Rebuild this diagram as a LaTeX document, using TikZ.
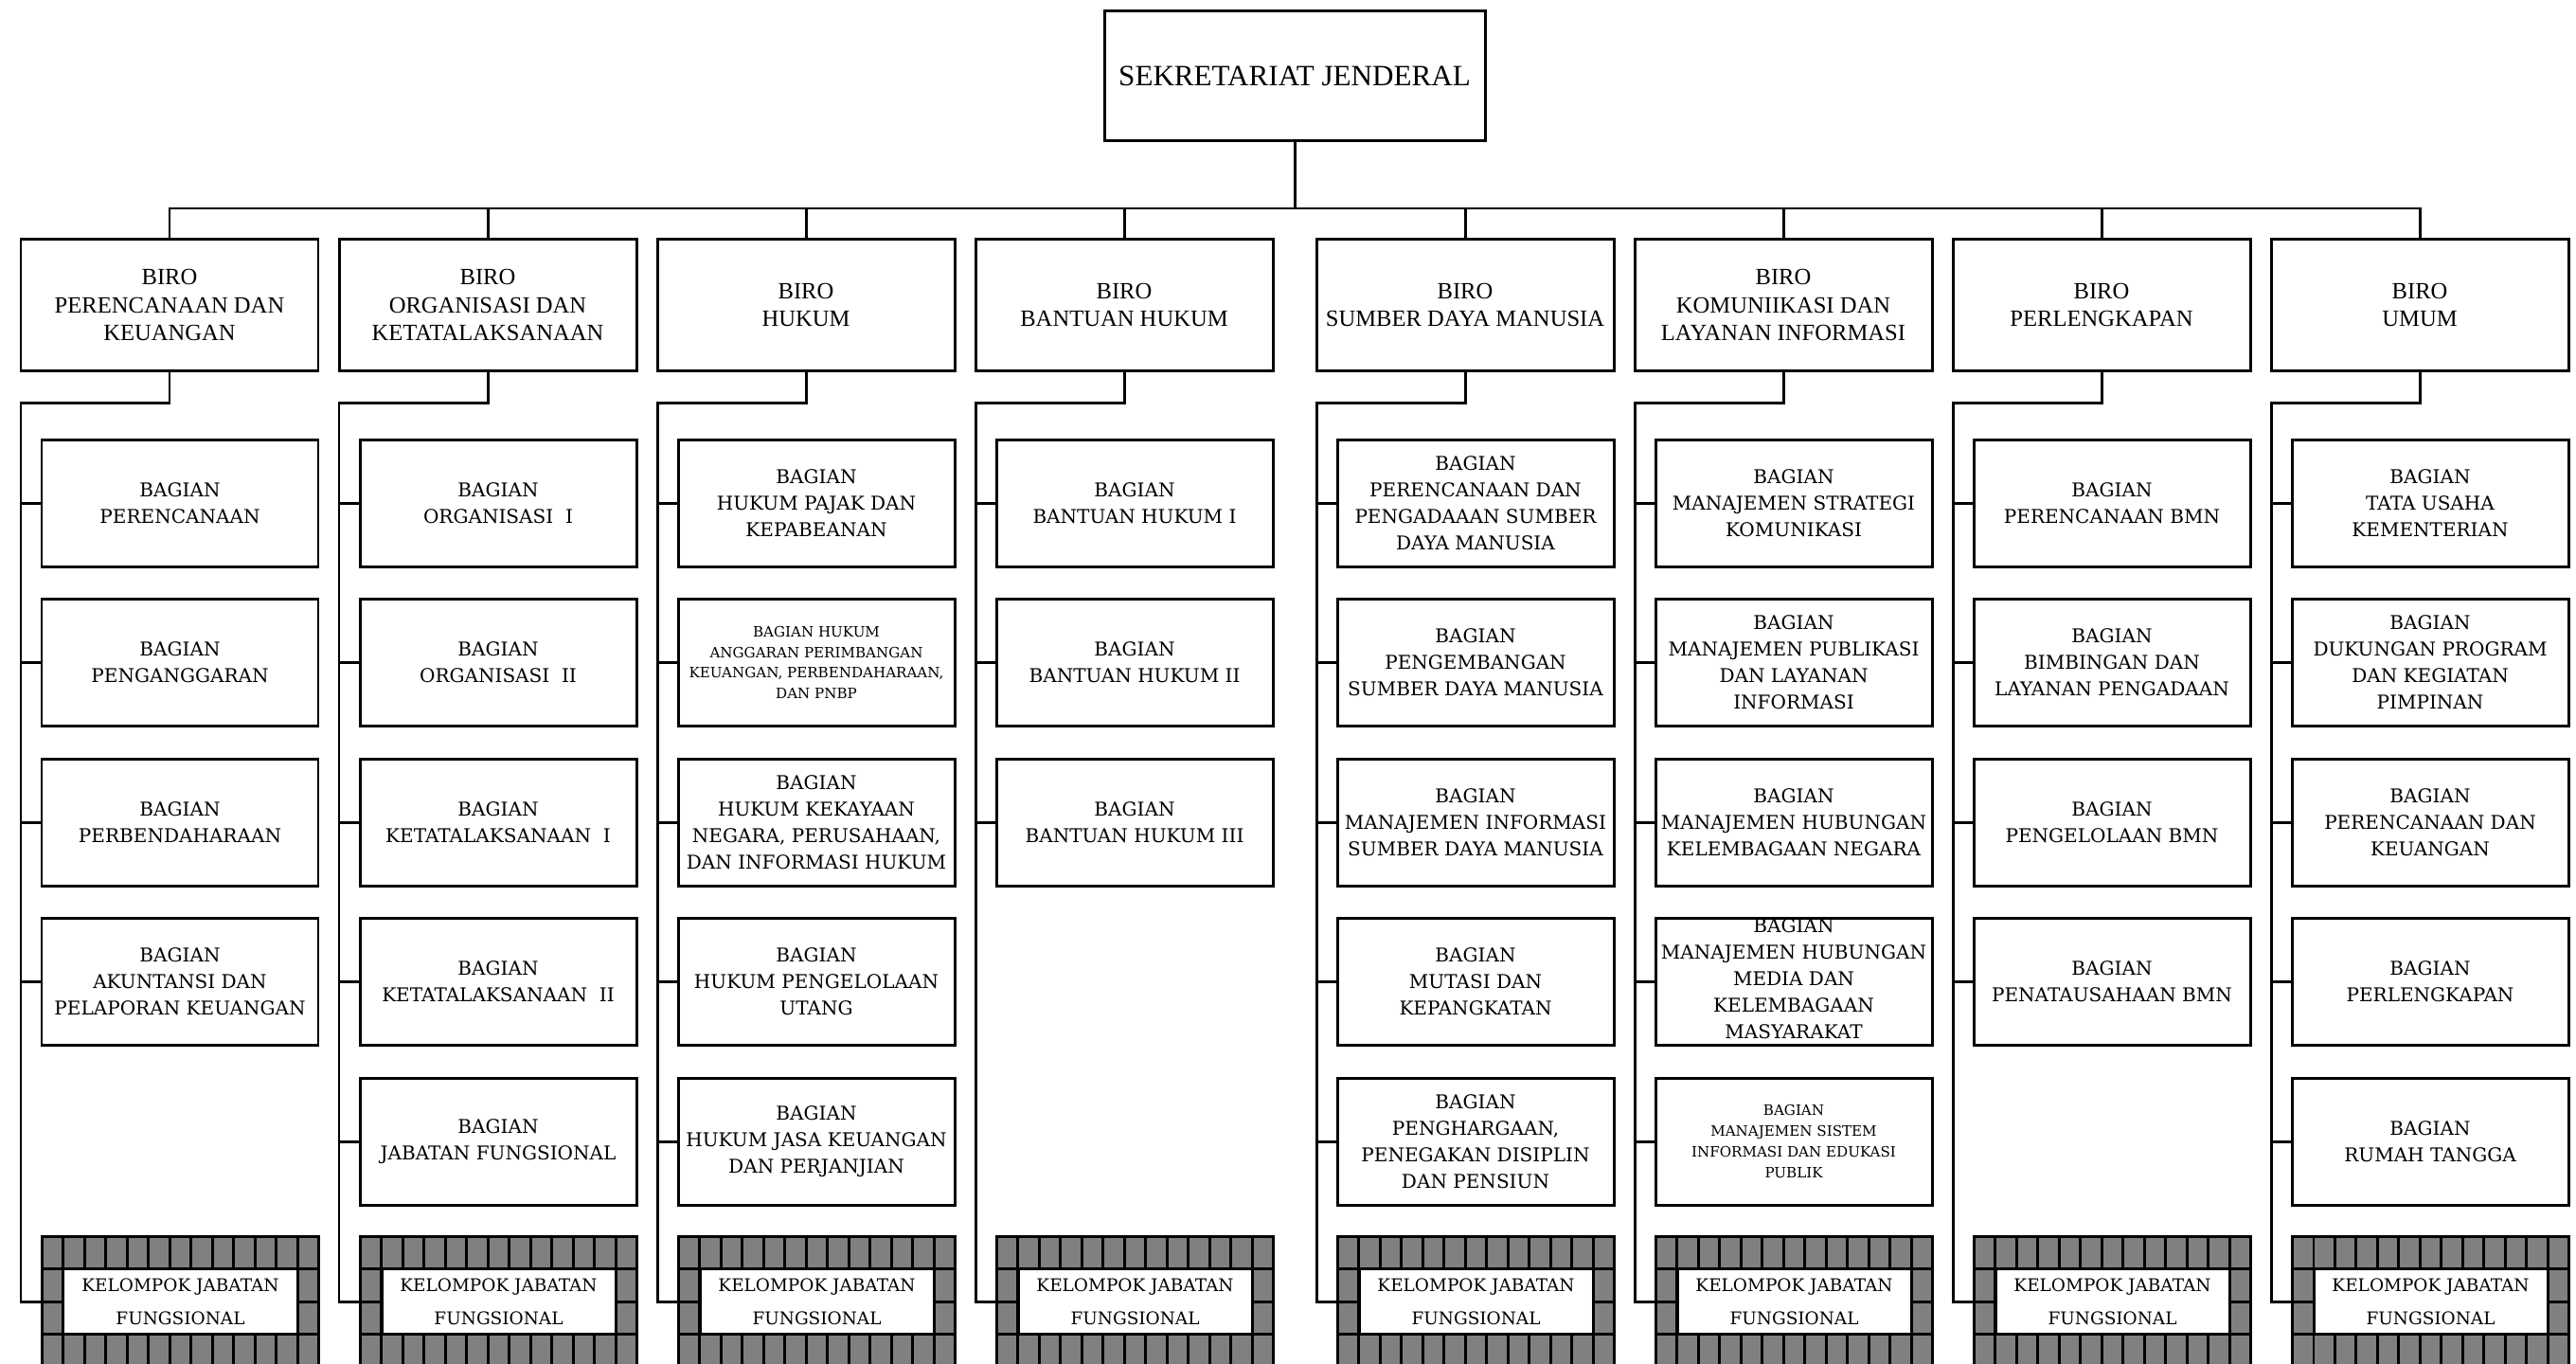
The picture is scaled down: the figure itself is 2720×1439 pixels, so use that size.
\documentclass[tikz,border=0pt]{standalone}
\usepackage{fontspec}
\setmainfont{DejaVu Serif}
\newfontfamily\birofont{Liberation Serif}
\usepackage{tikz}
\tikzstyle{garis} = [line width=0.85pt, draw=black]
\tikzstyle{sekjen} = [rectangle, draw=black, line width=0.85pt, minimum width=40.2mm, minimum height=13.7mm, text centered, font=\birofont\fontsize{8.85}{10}\selectfont]
\tikzstyle{biro} = [rectangle, draw=black, line width=0.85pt, minimum width=31.4mm, minimum height=13.9mm, align=center, inner sep=1pt, font=\birofont\fontsize{7}{8.4}\selectfont]
\tikzstyle{bagian} = [rectangle, draw=black, line width=0.85pt, minimum width=29.2mm, minimum height=13.4mm, align=center, inner sep=1pt, inner xsep=0pt, font=\fontsize{5.7}{8}\selectfont]
\tikzstyle{bagiankecil} = [bagian, font=\fontsize{4.3}{6.2}\selectfont]
\tikzstyle{bingkai} = [rectangle, draw=black, line width=0.85pt, fill=gray, minimum width=29.2mm, minimum height=13.8mm, inner sep=0pt, outer sep=0pt]
\tikzstyle{kelompok} = [rectangle, draw=black, line width=0.85pt, fill=white, minimum width=24.7mm, minimum height=6.9mm, inner sep=0pt, align=center, font=\fontsize{5.25}{9.9}\selectfont]

\newcommand{\kotakjf}[2]{%
  \node (#1) [bingkai] at (#2+146,1374) {};
  \foreach \i in {1,...,12} \draw [garis] (#2+\i*22.46,1305) -- (#2+\i*22.46,1443);
  \foreach \j in {1,2,3} \draw [garis] (#2,1305+\j*34.5) -- (#2+292,1305+\j*34.5);
  \node (#1t) [kelompok] at (#1) {KELOMPOK JABATAN\\FUNGSIONAL};
}

\begin{document}
\begin{tikzpicture}[x=0.1mm, y=-0.1mm, node distance=16.85mm]
\useasboundingbox (0,0) rectangle (2720,1439);
\clip (0,0) rectangle (2720,1439);

\node (sekjen) [sekjen] at (1367,80) {SEKRETARIAT JENDERAL};
\coordinate (bus) at (1367,220);

\node (biro1) [biro] at (179,322) {BIRO\\PERENCANAAN DAN\\KEUANGAN};
\node (biro2) [biro] at (515,322) {BIRO\\ORGANISASI DAN\\KETATALAKSANAAN};
\node (biro3) [biro] at (851,322) {BIRO\\HUKUM};
\node (biro4) [biro] at (1187,322) {BIRO\\BANTUAN HUKUM};
\node (biro5) [biro] at (1547,322) {BIRO\\SUMBER DAYA MANUSIA};
\node (biro6) [biro] at (1883,322) {BIRO\\KOMUNIIKASI DAN\\LAYANAN INFORMASI};
\node (biro7) [biro] at (2219,322) {BIRO\\PERLENGKAPAN};
\node (biro8) [biro] at (2555,322) {BIRO\\UMUM};

\coordinate (tr1) at (22,425);
\coordinate (tr2) at (358,425);
\coordinate (tr3) at (694,425);
\coordinate (tr4) at (1030,425);
\coordinate (tr5) at (1390,425);
\coordinate (tr6) at (1726,425);
\coordinate (tr7) at (2062,425);
\coordinate (tr8) at (2398,425);

\node (bag11) [bagian] at (190,531) {BAGIAN\\PERENCANAAN};
\node (bag12) [bagian, below of=bag11] {BAGIAN\\PENGANGGARAN};
\node (bag13) [bagian, below of=bag12] {BAGIAN\\PERBENDAHARAAN};
\node (bag14) [bagian, below of=bag13] {BAGIAN\\AKUNTANSI DAN\\PELAPORAN KEUANGAN};

\node (bag21) [bagian] at (526,531) {BAGIAN\\ORGANISASI\ \ I};
\node (bag22) [bagian, below of=bag21] {BAGIAN\\ORGANISASI\ \ II};
\node (bag23) [bagian, below of=bag22] {BAGIAN\\KETATALAKSANAAN\ \ I};
\node (bag24) [bagian, below of=bag23] {BAGIAN\\KETATALAKSANAAN\ \ II};
\node (bag25) [bagian, below of=bag24] {BAGIAN\\JABATAN FUNGSIONAL};

\node (bag31) [bagian] at (862,531) {BAGIAN\\HUKUM PAJAK DAN\\KEPABEANAN};
\node (bag32) [bagiankecil, below of=bag31] {BAGIAN HUKUM\\ANGGARAN PERIMBANGAN\\KEUANGAN, PERBENDAHARAAN,\\DAN PNBP};
\node (bag33) [bagian, below of=bag32] {BAGIAN\\HUKUM KEKAYAAN\\NEGARA, PERUSAHAAN,\\DAN INFORMASI HUKUM};
\node (bag34) [bagian, below of=bag33] {BAGIAN\\HUKUM PENGELOLAAN\\UTANG};
\node (bag35) [bagian, below of=bag34] {BAGIAN\\HUKUM JASA KEUANGAN\\DAN PERJANJIAN};

\node (bag41) [bagian] at (1198,531) {BAGIAN\\BANTUAN HUKUM I};
\node (bag42) [bagian, below of=bag41] {BAGIAN\\BANTUAN HUKUM II};
\node (bag43) [bagian, below of=bag42] {BAGIAN\\BANTUAN HUKUM III};

\node (bag51) [bagian] at (1558,531) {BAGIAN\\PERENCANAAN DAN\\PENGADAAAN SUMBER\\DAYA MANUSIA};
\node (bag52) [bagian, below of=bag51] {BAGIAN\\PENGEMBANGAN\\SUMBER DAYA MANUSIA};
\node (bag53) [bagian, below of=bag52] {BAGIAN\\MANAJEMEN INFORMASI\\SUMBER DAYA MANUSIA};
\node (bag54) [bagian, below of=bag53] {BAGIAN\\MUTASI DAN\\KEPANGKATAN};
\node (bag55) [bagian, below of=bag54] {BAGIAN\\PENGHARGAAN,\\PENEGAKAN DISIPLIN\\DAN PENSIUN};

\node (bag61) [bagian] at (1894,531) {BAGIAN\\MANAJEMEN STRATEGI\\KOMUNIKASI};
\node (bag62) [bagian, below of=bag61] {BAGIAN\\MANAJEMEN PUBLIKASI\\DAN LAYANAN\\INFORMASI};
\node (bag63) [bagian, below of=bag62] {BAGIAN\\MANAJEMEN HUBUNGAN\\KELEMBAGAAN NEGARA};
\node (bag64) [bagian, below of=bag63] {\raisebox{-2pt}{\smash{\begin{tabular}{@{}c@{}}BAGIAN\\MANAJEMEN HUBUNGAN\\MEDIA DAN\\KELEMBAGAAN\\MASYARAKAT\end{tabular}}}};
\node (bag65) [bagiankecil, below of=bag64] {BAGIAN\\MANAJEMEN SISTEM\\INFORMASI DAN EDUKASI\\PUBLIK};

\node (bag71) [bagian] at (2230,531) {BAGIAN\\PERENCANAAN BMN};
\node (bag72) [bagian, below of=bag71] {BAGIAN\\BIMBINGAN DAN\\LAYANAN PENGADAAN};
\node (bag73) [bagian, below of=bag72] {BAGIAN\\PENGELOLAAN BMN};
\node (bag74) [bagian, below of=bag73] {BAGIAN\\PENATAUSAHAAN BMN};

\node (bag81) [bagian] at (2566,531) {BAGIAN\\TATA USAHA\\KEMENTERIAN};
\node (bag82) [bagian, below of=bag81] {BAGIAN\\DUKUNGAN PROGRAM\\DAN KEGIATAN\\PIMPINAN};
\node (bag83) [bagian, below of=bag82] {BAGIAN\\PERENCANAAN DAN\\KEUANGAN};
\node (bag84) [bagian, below of=bag83] {BAGIAN\\PERLENGKAPAN};
\node (bag85) [bagian, below of=bag84] {BAGIAN\\RUMAH TANGGA};

\kotakjf{kjf1}{44.5}
\kotakjf{kjf2}{380.5}
\kotakjf{kjf3}{716.5}
\kotakjf{kjf4}{1052.5}
\kotakjf{kjf5}{1412.5}
\kotakjf{kjf6}{1748.5}
\kotakjf{kjf7}{2084.5}
\kotakjf{kjf8}{2420.5}

\draw [garis] (sekjen.south) -- (bus);
\draw [garis] (biro1.north) |- (bus);
\draw [garis] (biro2.north) |- (bus);
\draw [garis] (biro3.north) |- (bus);
\draw [garis] (biro4.north) |- (bus);
\draw [garis] (biro5.north) |- (bus);
\draw [garis] (biro6.north) |- (bus);
\draw [garis] (biro7.north) |- (bus);
\draw [garis] (biro8.north) |- (bus);

\draw [garis] (biro1.south) |- (tr1) |- (kjf1.west);
\draw [garis] (biro2.south) |- (tr2) |- (kjf2.west);
\draw [garis] (biro3.south) |- (tr3) |- (kjf3.west);
\draw [garis] (biro4.south) |- (tr4) |- (kjf4.west);
\draw [garis] (biro5.south) |- (tr5) |- (kjf5.west);
\draw [garis] (biro6.south) |- (tr6) |- (kjf6.west);
\draw [garis] (biro7.south) |- (tr7) |- (kjf7.west);
\draw [garis] (biro8.south) |- (tr8) |- (kjf8.west);

\draw [garis] (tr1 |- bag11.west) -- (bag11.west);
\draw [garis] (tr1 |- bag12.west) -- (bag12.west);
\draw [garis] (tr1 |- bag13.west) -- (bag13.west);
\draw [garis] (tr1 |- bag14.west) -- (bag14.west);

\draw [garis] (tr2 |- bag21.west) -- (bag21.west);
\draw [garis] (tr2 |- bag22.west) -- (bag22.west);
\draw [garis] (tr2 |- bag23.west) -- (bag23.west);
\draw [garis] (tr2 |- bag24.west) -- (bag24.west);
\draw [garis] (tr2 |- bag25.west) -- (bag25.west);

\draw [garis] (tr3 |- bag31.west) -- (bag31.west);
\draw [garis] (tr3 |- bag32.west) -- (bag32.west);
\draw [garis] (tr3 |- bag33.west) -- (bag33.west);
\draw [garis] (tr3 |- bag34.west) -- (bag34.west);
\draw [garis] (tr3 |- bag35.west) -- (bag35.west);

\draw [garis] (tr4 |- bag41.west) -- (bag41.west);
\draw [garis] (tr4 |- bag42.west) -- (bag42.west);
\draw [garis] (tr4 |- bag43.west) -- (bag43.west);

\draw [garis] (tr5 |- bag51.west) -- (bag51.west);
\draw [garis] (tr5 |- bag52.west) -- (bag52.west);
\draw [garis] (tr5 |- bag53.west) -- (bag53.west);
\draw [garis] (tr5 |- bag54.west) -- (bag54.west);
\draw [garis] (tr5 |- bag55.west) -- (bag55.west);

\draw [garis] (tr6 |- bag61.west) -- (bag61.west);
\draw [garis] (tr6 |- bag62.west) -- (bag62.west);
\draw [garis] (tr6 |- bag63.west) -- (bag63.west);
\draw [garis] (tr6 |- bag64.west) -- (bag64.west);
\draw [garis] (tr6 |- bag65.west) -- (bag65.west);

\draw [garis] (tr7 |- bag71.west) -- (bag71.west);
\draw [garis] (tr7 |- bag72.west) -- (bag72.west);
\draw [garis] (tr7 |- bag73.west) -- (bag73.west);
\draw [garis] (tr7 |- bag74.west) -- (bag74.west);

\draw [garis] (tr8 |- bag81.west) -- (bag81.west);
\draw [garis] (tr8 |- bag82.west) -- (bag82.west);
\draw [garis] (tr8 |- bag83.west) -- (bag83.west);
\draw [garis] (tr8 |- bag84.west) -- (bag84.west);
\draw [garis] (tr8 |- bag85.west) -- (bag85.west);

\end{tikzpicture}
\end{document}
